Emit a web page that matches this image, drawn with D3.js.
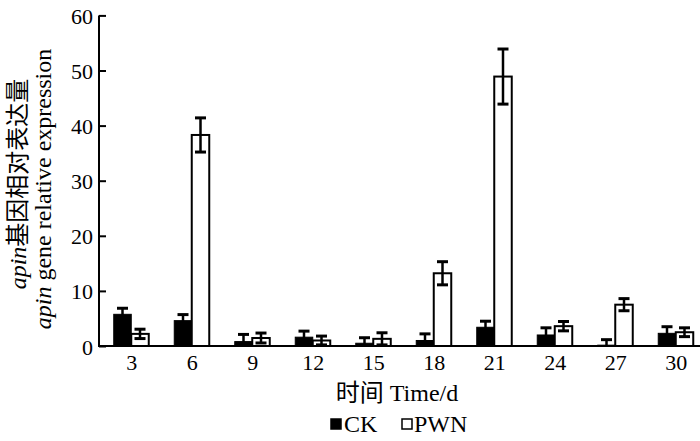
<!DOCTYPE html>
<html>
<head>
<meta charset="utf-8">
<script src="https://cdn.jsdelivr.net/npm/d3@7"></script>
<style>
  html, body { margin: 0; padding: 0; background: #fff; }
  svg { display: block; }
  text { font-family: "Liberation Serif", "Noto Sans CJK SC", serif; fill: #000; }
</style>
</head>
<body>
<svg id="chart" width="700" height="441"></svg>
<script>
// ---- data ----
const days   = ["3", "6", "9", "12", "15", "18", "21", "24", "27", "30"];
const ck     = [5.75, 4.6, 0.8, 1.6, 0.5, 1.0, 3.4, 2.0, 0.15, 2.3];
const ckErr  = [1.1, 1.1, 1.3, 1.1, 1.0, 1.2, 1.1, 1.3, 1.0, 1.2];
const pwn    = [2.2, 38.3, 1.45, 1.0, 1.3, 13.2, 48.9, 3.6, 7.5, 2.5];
const pwnErr = [0.85, 3.1, 0.9, 0.8, 1.1, 2.1, 5.0, 0.85, 1.1, 0.8];
const yTicks = [0, 10, 20, 30, 40, 50, 60];
const seriesNames = ["CK", "PWN"];

const svg = d3.select("#chart");
const axisX = 99, baseY = 346, topY = 15.4;

const x = d3.scalePoint().domain(days).range([101, 706]).padding(0.5);
const y = d3.scaleLinear().domain([0, 60]).range([baseY, topY]);
const barW = 17.5;

const rows = days.map((d, i) => ({ d, ck: ck[i], ckErr: ckErr[i], pwn: pwn[i], pwnErr: pwnErr[i] }));

// y axis (ticks inward)
const yAxis = d3.axisRight(y).tickValues(yTicks).tickSize(7).tickFormat("");
const gy = svg.append("g").attr("transform", `translate(${axisX},0)`).call(yAxis);
gy.select(".domain").attr("stroke", "#000").attr("stroke-width", 2).attr("d", `M0,${topY}V${baseY}`);
gy.selectAll(".tick line").attr("stroke", "#000").attr("stroke-width", 2);
svg.append("g").selectAll("text").data(yTicks).join("text")
  .attr("x", axisX - 6).attr("y", d => y(d) + 1)
  .attr("text-anchor", "end").attr("dominant-baseline", "central")
  .attr("font-size", 22).text(d => d);

// bars
const g = svg.append("g");
g.selectAll("rect.ck").data(rows).join("rect").attr("class", "ck")
  .attr("x", d => x(d.d) - barW).attr("width", barW)
  .attr("y", d => y(d.ck)).attr("height", d => baseY - y(d.ck))
  .attr("fill", "#000").attr("stroke", "#000").attr("stroke-width", 1);
g.selectAll("rect.pwn").data(rows).join("rect").attr("class", "pwn")
  .attr("x", d => x(d.d)).attr("width", barW)
  .attr("y", d => y(d.pwn)).attr("height", d => baseY - y(d.pwn))
  .attr("fill", "#fff").attr("stroke", "#000").attr("stroke-width", 2);

// error bars
function errBars(cls, val, err, off) {
  const eg = svg.append("g").attr("class", cls);
  const cx = d => x(d.d) + off;
  eg.selectAll("line.v").data(rows).join("line").attr("class", "v")
    .attr("x1", cx).attr("x2", cx)
    .attr("y1", d => y(Math.max(0, d[val] - d[err]))).attr("y2", d => y(d[val] + d[err]))
    .attr("stroke", "#000").attr("stroke-width", 2.5);
  eg.selectAll("line.t").data(rows).join("line").attr("class", "t")
    .attr("x1", d => cx(d) - 5.5).attr("x2", d => cx(d) + 5.5)
    .attr("y1", d => y(d[val] + d[err])).attr("y2", d => y(d[val] + d[err]))
    .attr("stroke", "#000").attr("stroke-width", 3);
  eg.selectAll("line.b").data(rows.filter(d => d[val] - d[err] > 0)).join("line").attr("class", "b")
    .attr("x1", d => cx(d) - 5.5).attr("x2", d => cx(d) + 5.5)
    .attr("y1", d => y(d[val] - d[err])).attr("y2", d => y(d[val] - d[err]))
    .attr("stroke", "#000").attr("stroke-width", 3);
}
errBars("eck", "ck", "ckErr", -barW / 2);
errBars("epwn", "pwn", "pwnErr", barW / 2);

// x axis
const xAxis = d3.axisBottom(x).tickSize(0).tickPadding(8);
const gx = svg.append("g").attr("transform", `translate(0,${baseY})`).call(xAxis);
gx.select(".domain").attr("stroke", "#000").attr("stroke-width", 2).attr("d", `M${axisX - 1},0H700`);
gx.selectAll(".tick text").attr("font-size", 22).attr("font-family", "Liberation Serif").attr("fill", "#000");

// x title
svg.append("text").attr("x", 397).attr("y", 393).attr("text-anchor", "middle")
  .attr("dominant-baseline", "central").attr("font-size", 24).text("时间 Time/d");

// y title (two lines)
const yt1 = svg.append("text").attr("transform", "translate(18,184) rotate(-90)")
  .attr("text-anchor", "middle").attr("dominant-baseline", "central").attr("font-size", 24);
yt1.append("tspan").attr("font-style", "italic").text("apin");
yt1.append("tspan").text("基因相对表达量");
const yt2 = svg.append("text").attr("transform", "translate(43,189) rotate(-90)")
  .attr("text-anchor", "middle").attr("dominant-baseline", "central").attr("font-size", 24);
yt2.append("tspan").attr("font-style", "italic").text("apin");
yt2.append("tspan").text(" gene relative expression");

// legend
const lg = svg.append("g");
const legendItems = [
  { name: seriesNames[0], fill: "#000", x: 331, tx: 344 },
  { name: seriesNames[1], fill: "#fff", x: 402, tx: 414 }
];
lg.selectAll("rect").data(legendItems).join("rect")
  .attr("x", d => d.x).attr("y", 419).attr("width", 10).attr("height", 10)
  .attr("fill", d => d.fill).attr("stroke", "#000").attr("stroke-width", 1.5);
lg.selectAll("text").data(legendItems).join("text")
  .attr("x", d => d.tx).attr("y", 424).attr("dominant-baseline", "central")
  .attr("font-size", 24).text(d => d.name);
</script>
</body>
</html>
